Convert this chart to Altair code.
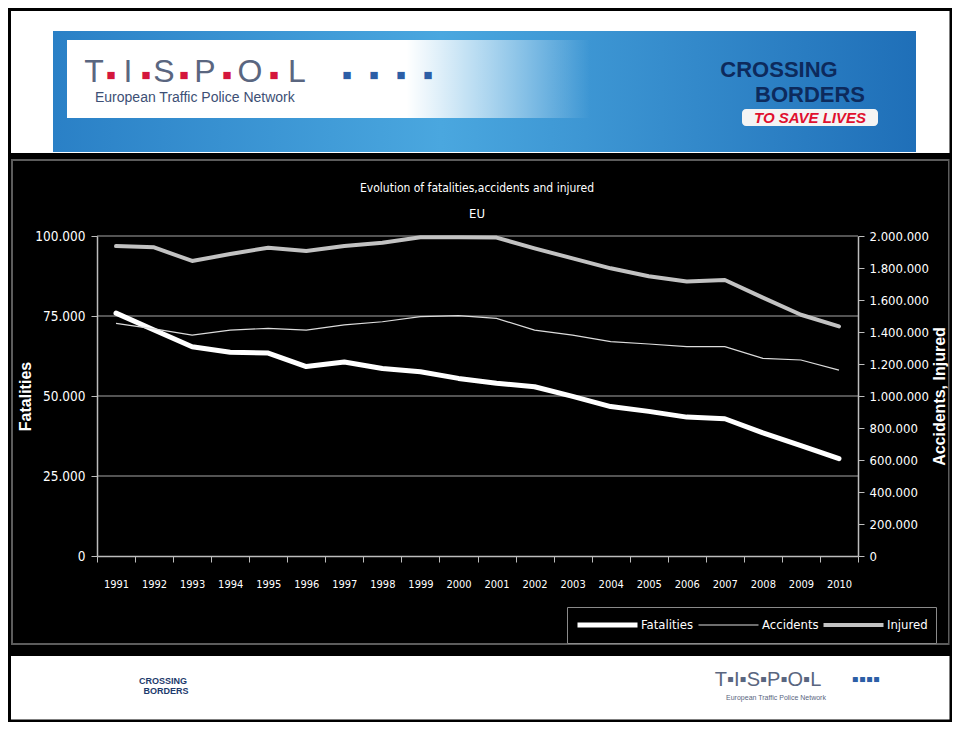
import altair as alt
import pandas as pd

# ---------------- data ----------------
years = [str(y) for y in range(1991, 2011)]
fatalities = [75900, 70600, 65400, 63700, 63400, 59200, 60600, 58600, 57600, 55500,
              54000, 52900, 49900, 46700, 45200, 43400, 42900, 38500, 34500, 30400]
accidents = [1454000, 1420000, 1381000, 1412000, 1423000, 1412000, 1444000, 1464000, 1496000, 1502000,
             1485000, 1412000, 1381000, 1340000, 1325000, 1308000, 1308000, 1235000, 1225000, 1162000]
injured = [1937000, 1929000, 1844000, 1887000, 1927000, 1906000, 1937000, 1958000, 1992000, 1992000,
           1990000, 1923000, 1860000, 1798000, 1748000, 1716000, 1725000, 1615000, 1508000, 1435000]
series_names = ["Fatalities", "Accidents", "Injured"]
left_ticks = [0, 25000, 50000, 75000, 100000]
right_ticks = [0, 200000, 400000, 600000, 800000, 1000000, 1200000, 1400000,
               1600000, 1800000, 2000000]
grid_values = [25000, 50000, 75000, 100000]
title_text = "Evolution of fatalities,accidents and injured"
subtitle_text = "EU"

fat_df = pd.DataFrame({"year": years, "value": fatalities, "series": "Fatalities"})
acc_df = pd.DataFrame({"year": years, "value": accidents, "series": "Accidents"})
inj_df = pd.DataFrame({"year": years, "value": injured, "series": "Injured"})
grid_df = pd.DataFrame({"value": grid_values})
one = pd.DataFrame({"d": [0]})

NARROW = "Liberation Sans Narrow, Arial Narrow, DejaVu Sans Condensed, Liberation Sans, sans-serif"
SANS = "Liberation Sans, Arial, sans-serif"
AX = "#bdbdbd"

# plot area origin on the page
OX, OY = 97, 236

dot_expr = "replace(replace(format(datum.value, ','), ',', '.'), ',', '.')"

x_enc = alt.X(
    "year:O", title=None, sort=years, bandPosition=0.5,
    scale=alt.Scale(type="band", domain=years, paddingInner=0, paddingOuter=0),
    axis=alt.Axis(tickBand="extent", labelAngle=0, labelFont=NARROW, labelFontSize=11,
                  labelColor="white", labelPadding=16, tickSize=6, tickColor=AX,
                  domainColor=AX, domainWidth=1.5, grid=False, zindex=1),
)

left_axis = alt.Axis(values=left_ticks, labelExpr=dot_expr, title="Fatalities",
                     titleColor="white", titleFont=SANS, titleFontSize=16,
                     titleFontWeight="bold", titlePadding=1, labelColor="white",
                     labelFont=NARROW, labelFontSize=13.5, labelPadding=6, tickSize=6,
                     tickColor=AX, domainColor=AX, domainWidth=1.5, grid=False, zindex=1)
left_y = alt.Y("value:Q", scale=alt.Scale(domain=[0, 100000], nice=False), axis=left_axis)

right_axis = alt.Axis(orient="right", values=right_ticks, labelExpr=dot_expr,
                      title="Accidents, Injured", titleAngle=270, titleColor="white",
                      titleFont=SANS, titleFontSize=16, titleFontWeight="bold",
                      titlePadding=19, labelColor="white", labelFont=NARROW,
                      labelFontSize=13, labelPadding=5, tickSize=6, tickColor=AX,
                      domainColor=AX, domainWidth=1.5, grid=False, zindex=1)
right_y = alt.Y("value:Q", scale=alt.Scale(domain=[0, 2000000], nice=False), axis=right_axis)

legend = alt.Legend(
    orient="none", legendX=470, legendY=371, direction="horizontal",
    title=None, symbolType="stroke", symbolSize=3600, clipHeight=20,
    symbolOffset=26, labelColor="white", labelFont=NARROW, labelFontSize=13,
    labelOffset=27, columnPadding=2, strokeColor="#8a8a8a",
    padding=8, fillColor="black",
    symbolStrokeWidth=alt.ExprRef(
        expr="datum.value === 'Accidents' ? 1.2 : (datum.value === 'Fatalities' ? 5 : 4)"),
)
color = alt.Color("series:N", scale=alt.Scale(domain=series_names,
                  range=["#ffffff", "#dcdcdc", "#c2c2c2"]), legend=legend)

# ---------------- decorations (slide) ----------------
def box(x1, y1, x2, y2, **kw):
    return alt.Chart(one).mark_rect(**kw).encode(
        x=alt.value(x1 - OX), x2=alt.value(x2 - OX),
        y=alt.value(y1 - OY), y2=alt.value(y2 - OY))


def label(s, x, y, size, color_, font=SANS, weight="normal", style="normal", align="center"):
    return alt.Chart(one).mark_text(text=s, font=font, fontSize=size, color=color_,
                                    fontWeight=weight, fontStyle=style, align=align,
                                    baseline="middle").encode(
        x=alt.value(x - OX), y=alt.value(y - OY))


deco_back = [
    box(10, 153, 952, 656, color="black"),
    box(12, 160, 949, 644, fill="transparent", stroke="#5c5c5c", strokeWidth=2),
    box(9.5, 9.5, 951, 721, fill="transparent", stroke="black", strokeWidth=3),
    box(53, 31, 916, 152, fill=alt.LinearGradient(
        gradient="linear", x1=0, x2=1, y1=0, y2=0,
        stops=[alt.GradientStop(color="#2a80c6", offset=0),
               alt.GradientStop(color="#4aa7df", offset=0.45),
               alt.GradientStop(color="#1f6fb8", offset=1)])),
    box(67, 40, 590, 118, fill=alt.LinearGradient(
        gradient="linear", x1=0, x2=1, y1=0, y2=0,
        stops=[alt.GradientStop(color="#ffffff", offset=0),
               alt.GradientStop(color="#ffffff", offset=0.65),
               alt.GradientStop(color="rgba(255,255,255,0)", offset=1)])),
    box(742, 109, 878, 126, fill="#f4f4f4", cornerRadius=4),
]

tis_letters = ["T", "I", "S", "P", "O", "L"]
letter_x = [94, 128, 164, 205, 250, 297]
red_x = [111, 146, 184, 227, 274]
blue_x = [347, 374, 401, 428]
deco_front = []
for s, xx in zip(tis_letters, letter_x):
    deco_front.append(label(s, xx, 72, 32, "#5a6680"))
for xx in red_x:
    deco_front.append(label("■", xx, 75, 15, "#d4163c"))
for xx in blue_x:
    deco_front.append(label("■", xx, 75, 15, "#2c5ea6"))
deco_front += [
    label("European Traffic Police Network", 95, 98, 14, "#3d4f75", align="left"),
    label("CROSSING", 779, 70, 22, "#0d2a5c", weight="bold"),
    label("BORDERS", 810, 95, 22, "#0d2a5c", weight="bold"),
    label("TO SAVE LIVES", 810, 118, 15, "#e0102f", weight="bold", style="italic"),
    label("CROSSING", 163, 681, 9, "#1d3a6c", weight="bold"),
    label("BORDERS", 166, 691, 9, "#1d3a6c", weight="bold"),
    label("T▪I▪S▪P▪O▪L", 768, 680, 20, "#5a6680"),
    label("▪▪▪▪", 866, 680, 20, "#2c5ea6"),
    label("European Traffic Police Network", 776, 698, 7, "#5a6680"),
    label(title_text, 477, 188, 12, "white", font=NARROW),
    label(subtitle_text, 477, 214, 13, "white", font=NARROW),
]

# ---------------- chart layers ----------------
grid = alt.Chart(grid_df).mark_rule(color="#a6a6a6", strokeWidth=1.2).encode(y=left_y)
fat_line = alt.Chart(fat_df).mark_line(strokeWidth=5, strokeCap="round", strokeJoin="round").encode(
    x=x_enc, y=left_y, color=color)
left_layer = alt.layer(grid, fat_line)

acc_line = alt.Chart(acc_df).mark_line(strokeWidth=1.2).encode(x=x_enc, y=right_y, color=color)
inj_line = alt.Chart(inj_df).mark_line(strokeWidth=4, strokeCap="round", strokeJoin="round").encode(
    x=x_enc, y=right_y, color=color)
right_layer = alt.layer(acc_line, inj_line)

chart = alt.layer(*deco_back, left_layer, right_layer, *deco_front).resolve_scale(
    y="independent"
).properties(
    width=761, height=320,
    autosize=alt.AutoSizeParams(type="none"),
    padding={"left": OX - 8, "top": OY - 8, "right": 944 - (OX - 8) - 761,
             "bottom": 714 - (OY - 8) - 320},
    background="white",
).configure_view(stroke=None)

chart.save("out.html", embed_options={"renderer": "svg", "actions": False})
